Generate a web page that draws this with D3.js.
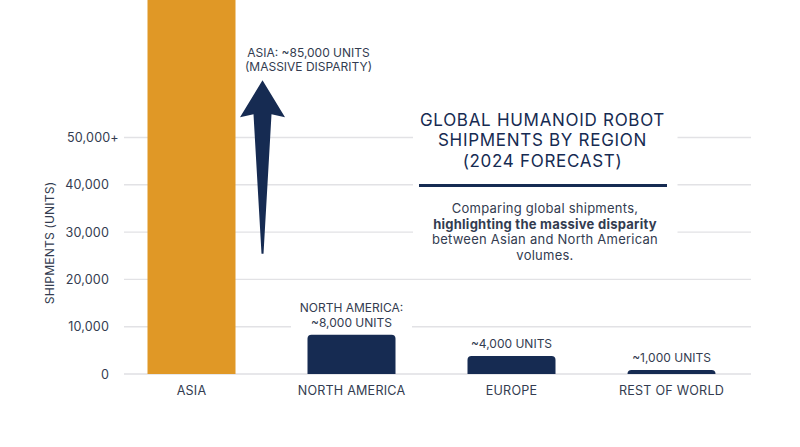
<!DOCTYPE html>
<html>
  <head>
    <meta charset="utf-8">
    <style>
      html, body { margin: 0; padding: 0; background: #fff; overflow: hidden; }
      svg { display: block; }
      text { font-family: Inter, "Noto Sans", sans-serif; fill: #333c50; }
      .domain { display: none; }
      .grid line { stroke: #e2e2e5; stroke-width: 1.4; }
    </style>
  </head>
  <body>
    <svg width="800" height="447"></svg>
    <script src="https://d3js.org/d3.v7.min.js"></script>
    <script>
    var regions = ["ASIA", "NORTH AMERICA", "EUROPE", "REST OF WORLD"];
    var shipments = [85000, 8300, 3800, 850];
    var barLabels = [["ASIA: ~85,000 UNITS", "(MASSIVE DISPARITY)"], ["NORTH AMERICA:", "~8,000 UNITS"], ["~4,000 UNITS"], ["~1,000 UNITS"]];
    var yTicks = [0, 10000, 20000, 30000, 40000, 50000];
    var yTickLabels = ["0", "10,000", "20,000", "30,000", "40,000", "50,000+"];
    var titleLines = ["GLOBAL HUMANOID ROBOT", "SHIPMENTS BY REGION", "(2024 FORECAST)"];
    var subtitleLines = [["Comparing global shipments,", 400], ["highlighting the massive disparity", 700], ["between Asian and North American", 400], ["volumes.", 400]];
    // the arrow runs between these two values on the y scale
    var arrowFrom = 25400, arrowTo = 62100;

    var navy = "#162b52", orange = "#e09826";

    var svg = d3.select("svg");

    var x = d3.scaleBand().domain(regions).range([111.5, 751.5]).paddingInner(0.45).paddingOuter(0.225);
    var y = d3.scaleLinear().domain([0, 50000]).range([374, 137.5]);

    // gridlines
    var grid = svg.append("g").attr("class", "grid");
    grid.selectAll("line")
        .data(yTicks.slice(1))
      .enter().append("line")
        .attr("x1", 124)
        .attr("x2", 751)
        .attr("y1", function(d) { return y(d); })
        .attr("y2", function(d) { return y(d); });

    svg.append("line")
        .attr("x1", 124).attr("x2", 751)
        .attr("y1", y(0)).attr("y2", y(0))
        .attr("stroke", "#cfd0d6").attr("stroke-width", 1.2);

    // white panels that break the gridlines behind the text
    svg.append("rect").attr("x", 413).attr("y", 125).attr("width", 264.5).attr("height", 145).attr("fill", "#fff");
    svg.append("rect").attr("x", 291).attr("y", 298).attr("width", 121).attr("height", 34).attr("fill", "#fff");

    // bars, rounded on top only
    function barPath(d, i) {
      var x0 = x(regions[i]), x1 = x0 + x.bandwidth(), top = y(d), r = Math.min(4, y(0) - top);
      if (i == 0) r = 0;
      return "M" + x0 + "," + y(0) + "V" + (top + r) + "Q" + x0 + "," + top + " " + (x0 + r) + "," + top +
             "H" + (x1 - r) + "Q" + x1 + "," + top + " " + x1 + "," + (top + r) + "V" + y(0) + "Z";
    }
    svg.selectAll(".bar")
        .data(shipments)
      .enter().append("path")
        .attr("class", "bar")
        .attr("d", barPath)
        .attr("fill", function(d, i) { return i == 0 ? orange : navy; });

    // axes
    var yAxis = svg.append("g")
        .attr("transform", "translate(109,0)")
        .call(d3.axisLeft(y).tickValues(yTicks).tickSize(0).tickPadding(0)
          .tickFormat(function(d, i) { return yTickLabels[i]; }));
    yAxis.selectAll("text")
        .attr("font-size", 12.6)
        .style("font-family", "Inter")
        .style("letter-spacing", "0.15px");
    yAxis.selectAll("text").filter(function(d) { return d == 50000; })
        .attr("text-anchor", "start")
        .attr("x", -42);

    var xAxis = svg.append("g")
        .attr("transform", "translate(0," + y(0) + ")")
        .call(d3.axisBottom(x).tickSize(0).tickPadding(12));
    xAxis.selectAll("text")
        .attr("font-size", 12.6)
        .style("font-family", "Inter")
        .style("letter-spacing", "0.2px");

    svg.append("text")
        .attr("transform", "translate(54,243) rotate(-90)")
        .attr("text-anchor", "middle")
        .attr("font-size", 12.2)
        .style("letter-spacing", "0.1px")
        .text("SHIPMENTS (UNITS)");

    // value labels
    var labelBottoms = [y(arrowTo) - 9, y(shipments[1]) - 8, y(shipments[2]) - 8, y(shipments[3]) - 8];
    barLabels.forEach(function(lines, i) {
      var cx = i == 0 ? x(regions[0]) + x.bandwidth() + 73 : x(regions[i]) + x.bandwidth() / 2;
      lines.forEach(function(line, j) {
        svg.append("text")
            .attr("x", cx)
            .attr("y", labelBottoms[i] - (lines.length - 1 - j) * 14.3)
            .attr("text-anchor", "middle")
            .attr("font-size", 12)
            .style("letter-spacing", "0px")
            .text(line);
      });
    });

    // arrow beside the Asia bar
    var ax = x(regions[0]) + x.bandwidth() + 27;
    var arrow = d3.path();
    arrow.moveTo(ax, y(arrowTo));
    arrow.lineTo(ax + 22.5, y(arrowTo) + 37);
    arrow.lineTo(ax + 9, y(arrowTo) + 34);
    arrow.lineTo(ax + 1, y(arrowFrom));
    arrow.lineTo(ax - 1, y(arrowFrom));
    arrow.lineTo(ax - 9, y(arrowTo) + 34);
    arrow.lineTo(ax - 22.5, y(arrowTo) + 37);
    arrow.closePath();
    svg.append("path").attr("d", arrow.toString()).attr("fill", navy);

    // title block
    var cx = 542.5;
    titleLines.forEach(function(line, i) {
      svg.append("text")
          .attr("x", cx)
          .attr("y", 125.5 + i * 20.6)
          .attr("text-anchor", "middle")
          .attr("font-size", 17)
          .style("fill", navy)
          .style("letter-spacing", "0.7px")
          .text(line);
    });
    svg.append("line")
        .attr("x1", 419).attr("x2", 667)
        .attr("y1", 185.5).attr("y2", 185.5)
        .attr("stroke", navy).attr("stroke-width", 3);
    subtitleLines.forEach(function(line, i) {
      svg.append("text")
          .attr("x", cx + 2.5)
          .attr("y", 213 + i * 15.7)
          .attr("text-anchor", "middle")
          .attr("font-size", 13)
          .attr("font-weight", line[1])
          .style("letter-spacing", "0.25px")
          .text(line[0]);
    });
    </script>
  </body>
</html>
